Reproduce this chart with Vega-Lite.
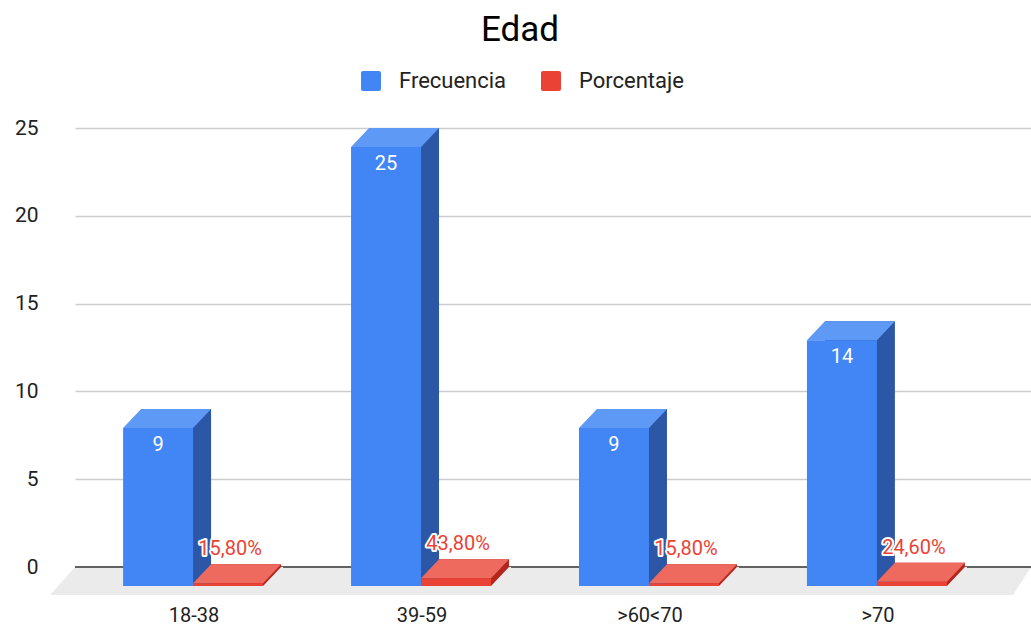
{
  "$schema": "https://vega.github.io/schema/vega-lite/v6.json",
  "autosize": "none",
  "width": 956,
  "height": 439,
  "padding": {"left": 75, "top": 128, "right": 0, "bottom": 65},
  "background": "#ffffff",
  "title": {"text": "Edad", "fontSize": 35, "font": "Roboto", "fontWeight": "normal", "color": "#000000", "anchor": "middle", "offset": 22, "dx": -33},
  "config": {
    "view": {"stroke": null},
    "font": "Roboto",
    "locale": {"number": {"decimal": ",", "thousands": ".", "grouping": [3], "currency": ["", " €"]}}
  },
  "resolve": {"scale": {"xOffset": "independent"}},
  "datasets": {
    "edades": [
      {"edad": "18-38", "serie": "Frecuencia", "valor": 9},
      {"edad": "18-38", "serie": "Porcentaje", "valor": 0.158},
      {"edad": "39-59", "serie": "Frecuencia", "valor": 25},
      {"edad": "39-59", "serie": "Porcentaje", "valor": 0.438},
      {"edad": ">60<70", "serie": "Frecuencia", "valor": 9},
      {"edad": ">60<70", "serie": "Porcentaje", "valor": 0.158},
      {"edad": ">70", "serie": "Frecuencia", "valor": 14},
      {"edad": ">70", "serie": "Porcentaje", "valor": 0.246}
    ],
    "piso": [{"base": 0}]
  },
  "layer": [
    {
      "data": {"name": "piso"},
      "mark": {"type": "point", "filled": true, "opacity": 1, "size": 4, "strokeWidth": 0, "color": "#ebebeb",
        "shape": "M -478 0 L 478 0 L 460 28 L -503 28 Z"},
      "encoding": {"y": {"field": "base", "type": "quantitative"}}
    },
    {
      "data": {"name": "piso"},
      "mark": {"type": "rule", "color": "#333333", "strokeWidth": 1.5},
      "encoding": {"y": {"field": "base", "type": "quantitative"}}
    },
    {
      "data": {"name": "edades"},
      "mark": {"type": "bar", "y2Offset": 19},
      "encoding": {
        "x": {"field": "edad", "type": "nominal", "sort": ["18-38", "39-59", ">60<70", ">70"],
          "scale": {"paddingInner": 0.386, "paddingOuter": 0.29},
          "axis": {"title": null, "labelAngle": 0, "labelFontSize": 20, "labelColor": "#222222", "labelOffset": -17, "labelPadding": 38, "domain": false, "ticks": false, "grid": false}},
        "xOffset": {"field": "serie", "type": "nominal", "sort": ["Frecuencia", "Porcentaje"], "scale": {"type": "band", "paddingInner": 0, "paddingOuter": 0}},
        "y": {"field": "valor", "type": "quantitative", "scale": {"domain": [0, 25], "nice": false},
          "axis": {"title": null, "values": [0, 5, 10, 15, 20, 25], "labelFontSize": 21, "labelColor": "#222222", "labelPadding": 37, "domain": false, "ticks": false, "grid": true, "gridColor": "#cccccc", "gridWidth": 1.5}},
        "y2": {"datum": 0},
        "fill": {"condition": {"test": "datum.serie === 'Frecuencia'", "value": "#2c57a7"}, "value": "#b3261e"}
      }
    },
    {
      "data": {"name": "edades"},
      "mark": {"type": "point", "filled": true, "opacity": 1, "size": 4, "strokeWidth": 0,
        "shape": "M -35 0 L 35 0 L 17 19 L -53 19 Z"},
      "encoding": {
        "x": {"field": "edad", "type": "nominal", "sort": ["18-38", "39-59", ">60<70", ">70"]},
        "xOffset": {"field": "serie", "type": "nominal", "sort": ["Frecuencia", "Porcentaje"], "scale": {"type": "band", "paddingInner": 0, "paddingOuter": 0}},
        "y": {"field": "valor", "type": "quantitative"},
        "fill": {"condition": {"test": "datum.serie === 'Frecuencia'", "value": "#5f99f6"}, "value": "#ee6a5e"}
      }
    },
    {
      "data": {"name": "edades"},
      "mark": {"type": "bar", "yOffset": 19, "y2Offset": 19},
      "encoding": {
        "x": {"field": "edad", "type": "nominal", "sort": ["18-38", "39-59", ">60<70", ">70"]},
        "xOffset": {"field": "serie", "type": "nominal", "sort": ["Frecuencia", "Porcentaje"], "scale": {"type": "band", "range": [-18, 122], "paddingInner": 0, "paddingOuter": 0}},
        "y": {"field": "valor", "type": "quantitative"},
        "y2": {"datum": 0},
        "color": {"field": "serie", "type": "nominal", "sort": ["Frecuencia", "Porcentaje"],
          "scale": {"domain": ["Frecuencia", "Porcentaje"], "range": ["#4285f4", "#ea4335"]},
          "legend": {"orient": "none", "legendX": 285, "legendY": -58, "direction": "horizontal", "title": null,
            "symbolType": "M -0.8 -1 L 0.8 -1 Q 1 -1 1 -0.8 L 1 0.8 Q 1 1 0.8 1 L -0.8 1 Q -1 1 -1 0.8 L -1 -0.8 Q -1 -1 -0.8 -1 Z",
            "symbolSize": 400, "symbolOpacity": 1, "symbolStrokeWidth": 0,
            "labelFontSize": 22, "labelColor": "#222222", "labelOffset": 17, "columnPadding": 33}}
      }
    },
    {
      "data": {"name": "edades"},
      "transform": [{"filter": "datum.serie === 'Porcentaje'"}],
      "mark": {"type": "point", "filled": true, "opacity": 1, "size": 4, "strokeWidth": 0, "color": "#ebebeb",
        "shape": "M 35 0 L 37 0 L 37 21 L 17 21 L 17 19 Z"},
      "encoding": {
        "x": {"field": "edad", "type": "nominal", "sort": ["18-38", "39-59", ">60<70", ">70"]},
        "xOffset": {"field": "serie", "type": "nominal", "sort": ["Frecuencia", "Porcentaje"], "scale": {"type": "band", "domain": ["Frecuencia", "Porcentaje"], "paddingInner": 0, "paddingOuter": 0}},
        "y": {"datum": 0}
      }
    },
    {
      "data": {"name": "edades"},
      "transform": [{"filter": "datum.serie === 'Frecuencia'"}],
      "mark": {"type": "text", "color": "#ffffff", "fontSize": 20, "baseline": "middle", "align": "center", "dx": -18, "dy": 36},
      "encoding": {
        "x": {"field": "edad", "type": "nominal", "sort": ["18-38", "39-59", ">60<70", ">70"]},
        "xOffset": {"field": "serie", "type": "nominal", "sort": ["Frecuencia", "Porcentaje"], "scale": {"type": "band", "domain": ["Frecuencia", "Porcentaje"], "paddingInner": 0, "paddingOuter": 0}},
        "y": {"field": "valor", "type": "quantitative"},
        "text": {"field": "valor", "type": "quantitative", "format": "d"}
      }
    },
    {
      "data": {"name": "edades"},
      "transform": [{"filter": "datum.serie === 'Porcentaje'"}],
      "mark": {"type": "text", "fontSize": 20, "baseline": "middle", "align": "center", "dx": -16, "dy": -15,
        "fill": "#ffffff", "stroke": "#ffffff", "strokeWidth": 4, "strokeJoin": "round"},
      "encoding": {
        "x": {"field": "edad", "type": "nominal", "sort": ["18-38", "39-59", ">60<70", ">70"]},
        "xOffset": {"field": "serie", "type": "nominal", "sort": ["Frecuencia", "Porcentaje"], "scale": {"type": "band", "domain": ["Frecuencia", "Porcentaje"], "paddingInner": 0, "paddingOuter": 0}},
        "y": {"field": "valor", "type": "quantitative"},
        "text": {"field": "valor", "type": "quantitative", "format": ".2%"}
      }
    },
    {
      "data": {"name": "edades"},
      "transform": [{"filter": "datum.serie === 'Porcentaje'"}],
      "mark": {"type": "text", "color": "#ea4335", "fontSize": 20, "baseline": "middle", "align": "center", "dx": -16, "dy": -15},
      "encoding": {
        "x": {"field": "edad", "type": "nominal", "sort": ["18-38", "39-59", ">60<70", ">70"]},
        "xOffset": {"field": "serie", "type": "nominal", "sort": ["Frecuencia", "Porcentaje"], "scale": {"type": "band", "domain": ["Frecuencia", "Porcentaje"], "paddingInner": 0, "paddingOuter": 0}},
        "y": {"field": "valor", "type": "quantitative"},
        "text": {"field": "valor", "type": "quantitative", "format": ".2%"}
      }
    }
  ]
}
